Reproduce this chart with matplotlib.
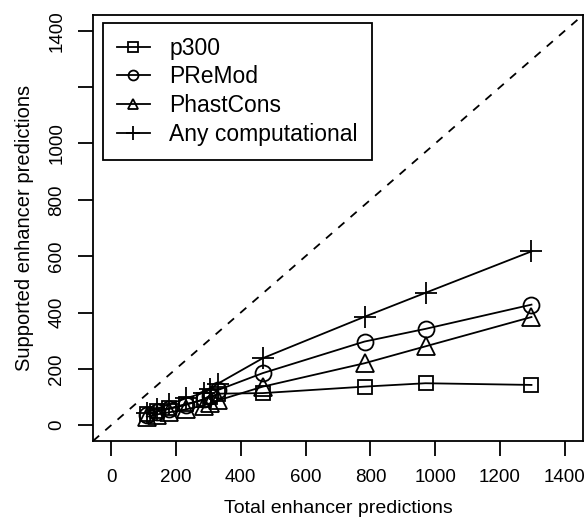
import matplotlib
matplotlib.use('Agg')
import matplotlib.pyplot as plt

plt.rcParams['font.family'] = ['Liberation Sans', 'DejaVu Sans']

# data
total = [110, 140, 180, 230, 285, 305, 330, 468, 782, 970, 1297]
p300 = [40, 50, 60, 75, 90, 100, 112, 114, 137, 149, 143]
premod = [38, 48, 58, 72, 92, 105, 125, 185, 297, 342, 428]
phast = [30, 38, 46, 56, 70, 78, 88, 137, 220, 280, 384]
anycomp = [45, 58, 75, 95, 115, 128, 148, 238, 385, 470, 617]
series_names = ['p300', 'PReMod', 'PhastCons', 'Any computational']
ticks = [0, 200, 400, 600, 800, 1000, 1200, 1400]

fig = plt.figure(figsize=(5.87, 5.22), dpi=100)
ax = fig.add_axes([93/587, 1-441/522, 490/587, 426/522])

lims = (-56, 1456)
lw = 1.3
ax.plot(lims, lims, color='black', ls=(0, (4.5, 4.5)), lw=lw)

ax.plot(total, p300, color='black', lw=lw, marker='s', ms=10.5, mfc='none', mew=lw, label=series_names[0])
ax.plot(total, premod, color='black', lw=lw, marker='o', ms=11.5, mfc='none', mew=lw, label=series_names[1])
ax.plot(total, phast, color='black', lw=lw, marker='^', ms=12.5, mfc='none', mew=lw, label=series_names[2])
ax.plot(total, anycomp, color='black', lw=lw, marker='+', ms=16, mew=lw, label=series_names[3])

ax.set_xlim(lims)
ax.set_ylim(lims)
ax.set_xticks(ticks)
ax.set_xticklabels([str(t) for t in ticks])
ax.set_yticks(ticks)
ax.set_yticklabels([str(t) if t != 1200 else '' for t in ticks], rotation=90, va='center')
ax.tick_params(direction='out', length=11, width=lw, labelsize=13.5, pad=9, color='black')
for s in ax.spines.values():
    s.set_linewidth(lw)

ax.set_xlabel('Total enhancer predictions', fontsize=14, labelpad=10)
ax.set_ylabel('Supported enhancer predictions', fontsize=14.5, labelpad=10)

leg = ax.legend(loc='upper left', bbox_to_anchor=(10/490, 1-8/426), borderaxespad=0,
                fontsize=16.5, fancybox=False, edgecolor='black', framealpha=1,
                handlelength=1.45, handletextpad=0.85, labelspacing=0.25, markerscale=0.62,
                borderpad=0.6)
leg.get_frame().set_linewidth(lw)

fig.savefig('out.png', dpi=100)
